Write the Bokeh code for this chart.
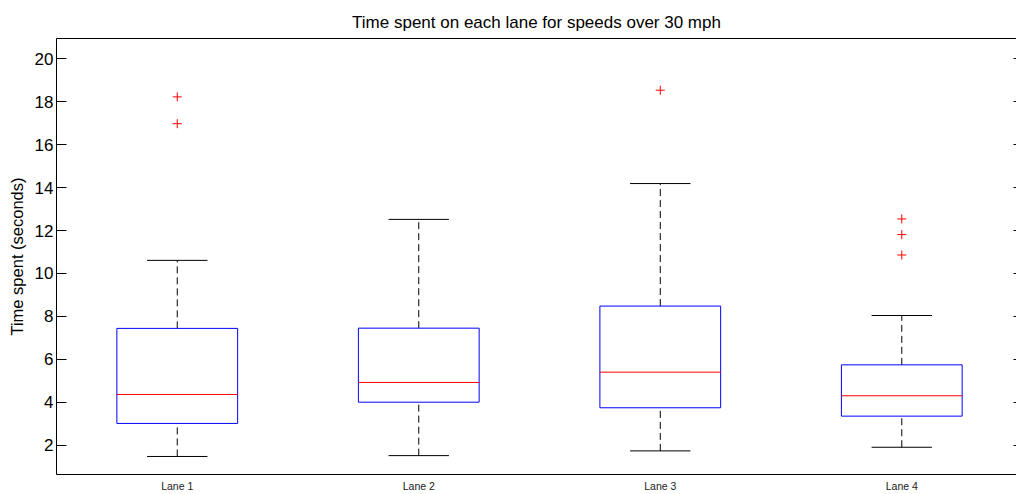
from bokeh.plotting import figure
from bokeh.models import Range1d, LinearAxis, FixedTicker, ColumnDataSource
from bokeh.embed import file_html
from bokeh.resources import INLINE

# ---- data ----
lanes = ["Lane 1", "Lane 2", "Lane 3", "Lane 4"]
lower_whisker = [1.47, 1.51, 1.73, 1.90]
q1 = [3.01, 4.00, 3.74, 3.35]
median = [4.36, 4.92, 5.40, 4.30]
q3 = [7.44, 7.45, 8.48, 5.74]
upper_whisker = [10.61, 12.52, 14.19, 8.04]
outliers = [[18.23, 16.98], [], [18.54], [10.86, 11.81, 12.54]]
y_ticks = [2, 4, 6, 8, 10, 12, 14, 16, 18, 20]

title_text = "Time spent on each lane for speeds over 30 mph"
y_label = "Time spent (seconds)"

# ---- layout helpers ----
pos = [i + 1 for i in range(len(lanes))]
box_half = 0.25
cap_half = 0.125

src = ColumnDataSource(dict(
    x=pos,
    lw=lower_whisker, q1=q1, med=median, q3=q3, uw=upper_whisker,
    bl=[x - box_half for x in pos], br=[x + box_half for x in pos],
    cl=[x - cap_half for x in pos], cr=[x + cap_half for x in pos],
))
out_x = [pos[i] for i, o in enumerate(outliers) for _ in o]
out_y = [v for o in outliers for v in o]

FONT = "Liberation Sans"

p = figure(width=1016, height=494, output_backend="svg", toolbar_location=None,
           x_range=Range1d(0.5, 4.475), y_range=Range1d(0.63, 20.95),
           x_axis_location=None, y_axis_location=None,
           min_border_left=56, min_border_right=0, min_border_top=38,
           min_border_bottom=20)
p.outline_line_color = None
p.xgrid.visible = False
p.ygrid.visible = False
p.background_fill_color = "white"
p.border_fill_color = "white"

p.title.text = title_text
p.title.align = "center"
p.title.text_font = FONT
p.title.text_font_size = "17px"
p.title.text_font_style = "normal"
p.title.text_color = "black"
p.title.standoff = 14

# left axis
ly = LinearAxis(ticker=FixedTicker(ticks=y_ticks), axis_label=y_label)
ly.major_tick_in = 10
ly.major_tick_out = 0
ly.minor_tick_in = 0
ly.minor_tick_out = 0
ly.major_label_standoff = 3
ly.axis_label_standoff = 6
ly.major_label_text_font = FONT
ly.major_label_text_font_size = "17px"
ly.major_label_text_color = "black"
ly.axis_label_text_font = FONT
ly.axis_label_text_font_size = "16.5px"
ly.axis_label_text_font_style = "normal"
ly.axis_label_text_color = "black"
ly.axis_line_color = "black"
ly.major_tick_line_color = "black"
p.add_layout(ly, "left")

# right axis (ticks only)
ry = LinearAxis(ticker=FixedTicker(ticks=y_ticks),
                major_label_overrides={t: "" for t in y_ticks})
ry.major_tick_in = 3
ry.major_tick_out = 0
ry.minor_tick_in = 0
ry.minor_tick_out = 0
ry.major_label_standoff = 0
ry.axis_line_color = None
ry.major_tick_line_color = "black"
p.add_layout(ry, "right")

# bottom axis with lane labels
bx = LinearAxis(ticker=FixedTicker(ticks=pos),
                major_label_overrides={x: lab for x, lab in zip(pos, lanes)})
bx.major_tick_in = 0
bx.major_tick_out = 0
bx.minor_tick_in = 0
bx.minor_tick_out = 0
bx.major_label_standoff = 5
bx.major_label_text_font = FONT
bx.major_label_text_font_size = "10.5px"
bx.major_label_text_color = "#222222"
bx.axis_line_color = "black"
p.add_layout(bx, "below")

# top border
tx = LinearAxis(ticker=FixedTicker(ticks=[]))
tx.major_tick_in = 0
tx.major_tick_out = 0
tx.minor_tick_in = 0
tx.minor_tick_out = 0
tx.major_label_standoff = 0
tx.axis_line_color = "black"
p.add_layout(tx, "above")

# whiskers (dashed)
p.segment(x0="x", y0="q3", x1="x", y1="uw", source=src,
          line_color="black", line_width=1, line_dash="7 4")
p.segment(x0="x", y0="lw", x1="x", y1="q1", source=src,
          line_color="black", line_width=1, line_dash="7 4")
# caps
p.segment(x0="cl", y0="uw", x1="cr", y1="uw", source=src,
          line_color="black", line_width=1)
p.segment(x0="cl", y0="lw", x1="cr", y1="lw", source=src,
          line_color="black", line_width=1)
# boxes
p.quad(left="bl", right="br", bottom="q1", top="q3", source=src,
       fill_color=None, line_color="#0000ff", line_width=1)
# medians
p.segment(x0="bl", y0="med", x1="br", y1="med", source=src,
          line_color="#ff0000", line_width=1)
# outliers
p.scatter(x=out_x, y=out_y, marker="cross", size=9,
          line_color="#ff0000", line_width=1)

open("out.html", "w").write(file_html(p, INLINE))
